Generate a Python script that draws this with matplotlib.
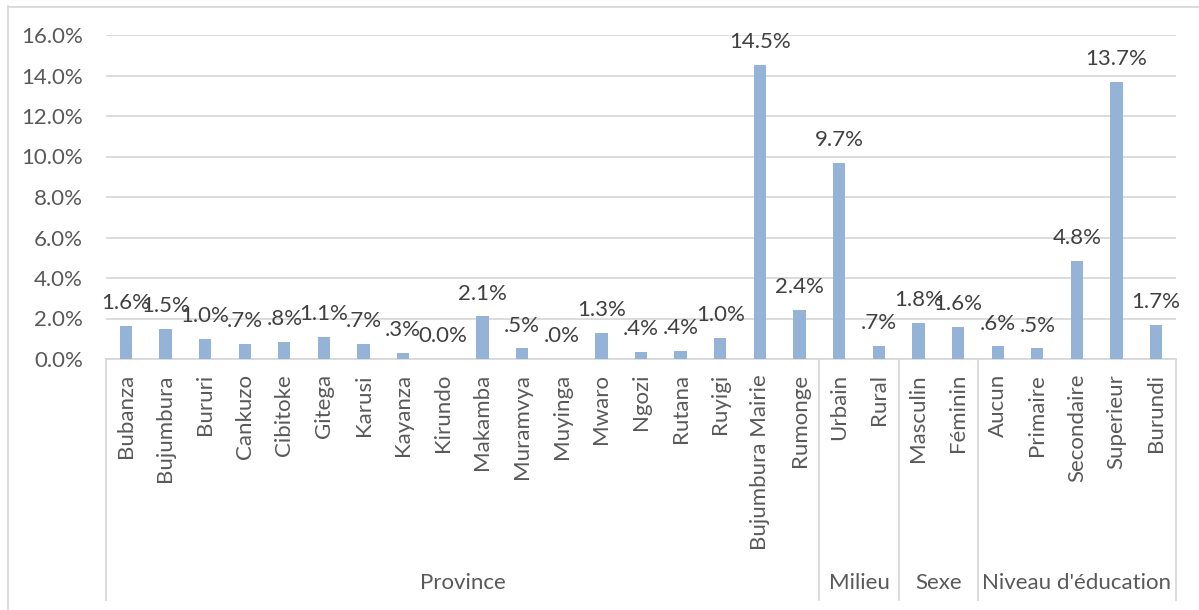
import matplotlib
matplotlib.use("Agg")
import matplotlib.pyplot as plt
from matplotlib.lines import Line2D
from matplotlib.ticker import FuncFormatter
import matplotlib.transforms as mtransforms

# Category labels, grouped on a two-level axis
categories = [
    "Bubanza", "Bujumbura", "Bururi", "Cankuzo", "Cibitoke", "Gitega", "Karusi",
    "Kayanza", "Kirundo", "Makamba", "Muramvya", "Muyinga", "Mwaro", "Ngozi",
    "Rutana", "Ruyigi", "Bujumbura Mairie", "Rumonge",
    "Urbain", "Rural",
    "Masculin", "Féminin",
    "Aucun", "Primaire", "Secondaire", "Superieur", "Burundi",
]
group_names = ["Province", "Milieu", "Sexe", "Niveau d'éducation"]
group_sizes = [18, 2, 2, 5]

# Share (percent)
values = [
    1.62, 1.46, 0.98, 0.72, 0.82, 1.07, 0.74,
    0.31, 0.0, 2.1, 0.52, 0.02, 1.28, 0.37,
    0.41, 1.02, 14.52, 2.42,
    9.68, 0.66,
    1.76, 1.6,
    0.62, 0.52, 4.84, 13.68, 1.66,
]
y_ticks = [0, 2, 4, 6, 8, 10, 12, 14, 16]

BAR = "#95b3d7"
GRID = "#d9d9d9"
TXT = "#595959"
LBL = "#404040"
FONT = ["Lato", "DejaVu Sans"]
FS = 16

plt.rcParams["font.family"] = FONT

W, H, DPI = 1199, 610, 100
fig = plt.figure(figsize=(W / DPI, H / DPI), dpi=DPI)

# Axes placed in pixel terms
x0, x1, ytop, ybot = 106, 1176, 35, 359
ax = fig.add_axes([x0 / W, (H - ybot) / H, (x1 - x0) / W, (ybot - ytop) / H])

n = len(categories)
xs = list(range(n))
ax.bar(xs, values, width=0.31, color=BAR, zorder=3)

ax.set_xlim(-0.5, n - 0.5)
ax.set_ylim(0, 16)
ax.set_yticks(y_ticks)
ax.yaxis.set_major_formatter(FuncFormatter(lambda v, p: f"{v:.1f}%"))
ax.tick_params(axis="y", length=0, pad=16.5, labelsize=FS, labelcolor=TXT)
ax.set_xticks([])
ax.grid(axis="y", color=GRID, linewidth=1.3, zorder=0)
for s in ["top", "right", "left"]:
    ax.spines[s].set_visible(False)
ax.spines["bottom"].set_color(GRID)
ax.spines["bottom"].set_linewidth(1.3)


def fmt(v):
    if v == 0:
        return "0.0%"
    s = f"{v:.1f}%"
    return s[1:] if s.startswith("0.") else s


# Value labels above bars
for x, v in zip(xs, values):
    ax.annotate(fmt(v), (x, v), xytext=(0, 12.2), textcoords="offset points",
                ha="center", va="baseline", fontsize=FS, color=LBL, zorder=4)

px = 72 / DPI  # points per pixel

# Category labels (rotated), hanging under the axis
for x, name in zip(xs, categories):
    ax.annotate(name, (x, 0), xycoords=("data", "axes fraction"),
                xytext=(0, -15 * px), textcoords="offset points",
                rotation=90, ha="center", va="top", fontsize=FS, color=TXT)

# Group labels and separators
trans = mtransforms.blended_transform_factory(ax.transData, ax.transAxes)
ax_h = ybot - ytop
sep_bottom = -(600 - ybot) / ax_h
start = 0
bounds = [-0.5]
for gname, gsize in zip(group_names, group_sizes):
    end = start + gsize
    center = (start + end - 1) / 2
    ax.annotate(gname, (center, 0), xycoords=("data", "axes fraction"),
                xytext=(0, -(583 - ybot) * px), textcoords="offset points",
                ha="center", va="center", fontsize=FS, color=TXT)
    bounds.append(end - 0.5)
    start = end

for b in bounds:
    ax.add_line(Line2D([b, b], [0, sep_bottom], transform=trans, color=GRID,
                       linewidth=1.3, clip_on=False))

# Outer chart frame
fig.add_artist(Line2D([7.5 / W, 7.5 / W], [0, 1 - 6 / H], transform=fig.transFigure,
                      color=GRID, linewidth=1.3))
fig.add_artist(Line2D([7.5 / W, 1], [1 - 6.5 / H, 1 - 6.5 / H], transform=fig.transFigure,
                      color=GRID, linewidth=1.3))

fig.savefig("out.png", dpi=DPI, facecolor="white")
